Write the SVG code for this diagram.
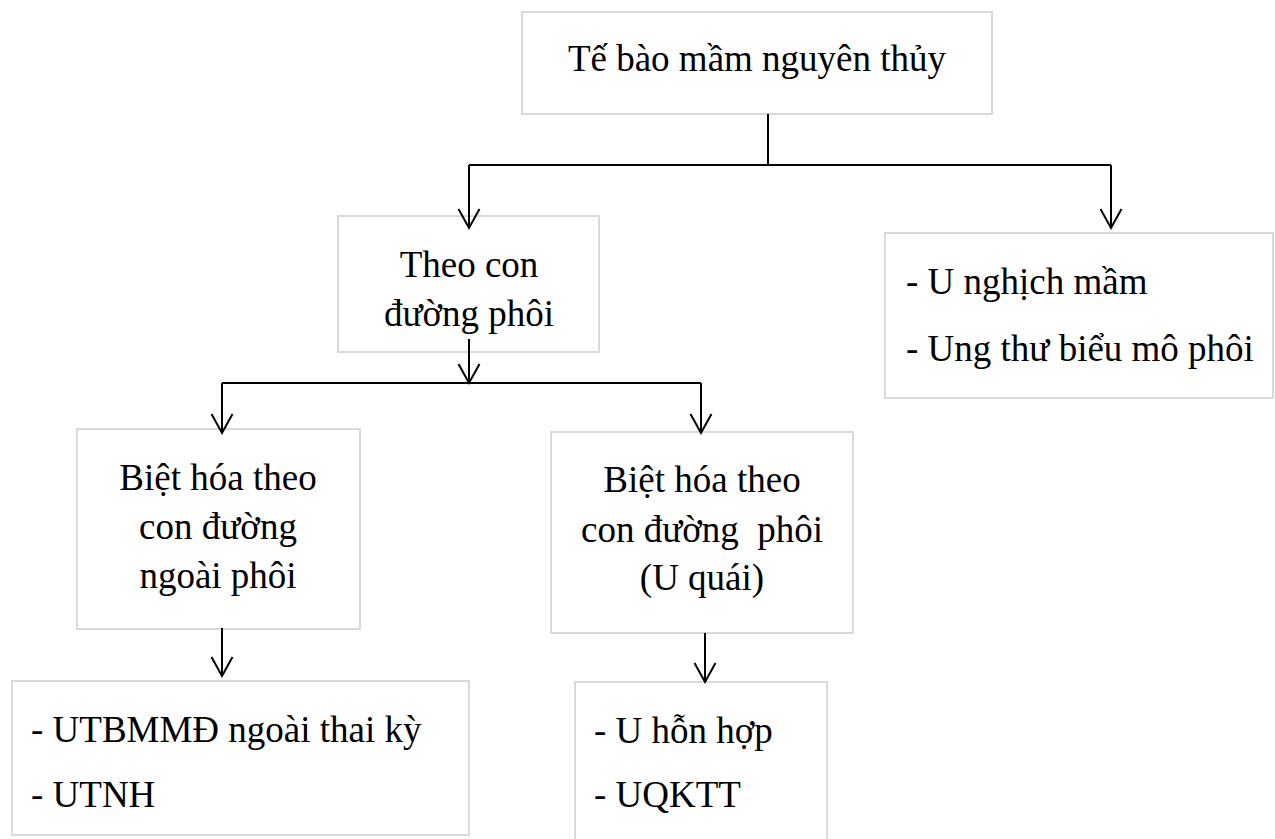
<svg xmlns="http://www.w3.org/2000/svg" width="1275" height="839" viewBox="0 0 1275 839">
<style>
  .box { fill: #ffffff; stroke: #d9d9d9; stroke-width: 2; }
  text { font-family: 'Liberation Serif', 'Times New Roman', 'DejaVu Serif', serif; font-size: 37px; fill: #000000; white-space: pre; }
  .c { text-anchor: middle; }
  .ln { fill: none; stroke: #000000; stroke-width: 2; }
  .arr { fill: none; stroke: #000000; stroke-width: 2; marker-end: url(#open); }
</style>
<defs>
  <marker id="open" markerUnits="userSpaceOnUse" markerWidth="24" markerHeight="26" viewBox="-21 -12 24 24" refX="0" refY="0" orient="auto" overflow="visible">
    <path d="M-19,-10.5 L0,0 L-19,10.5" fill="none" stroke="#000000" stroke-width="2"/>
  </marker>
</defs>
<rect width="1275" height="839" fill="#ffffff"/>

<g id="node-root">
  <rect class="box" x="522" y="12" width="470" height="102"/>
  <text class="c" x="757" y="71">Tế bào mầm nguyên thủy</text>
</g>
<g id="node-theo">
  <rect class="box" x="338" y="216" width="261" height="136"/>
  <text class="c" x="469" y="277">Theo con</text>
  <text class="c" x="469" y="326">đường phôi</text>
</g>
<g id="node-unghich">
  <rect class="box" x="885" y="233" width="388" height="165"/>
  <text x="906" y="294">- U nghịch mầm</text>
  <text x="906" y="361">- Ung thư biểu mô phôi</text>
</g>
<g id="node-ngoaiphoi">
  <rect class="box" x="77" y="429" width="283" height="200"/>
  <text class="c" x="218" y="490">Biệt hóa theo</text>
  <text class="c" x="218" y="539">con đường</text>
  <text class="c" x="218" y="588">ngoài phôi</text>
</g>
<g id="node-uquai">
  <rect class="box" x="551" y="432" width="302" height="201"/>
  <text class="c" x="702" y="492">Biệt hóa theo</text>
  <text class="c" x="702" y="542">con đường  phôi</text>
  <text class="c" x="702" y="590">(U quái)</text>
</g>
<g id="node-utbmmd">
  <rect class="box" x="12" y="681" width="457" height="154"/>
  <text x="31" y="742">- UTBMMĐ ngoài thai kỳ</text>
  <text x="31" y="807">- UTNH</text>
</g>
<g id="node-uhonhop">
  <rect class="box" x="575" y="682" width="252" height="170"/>
  <text x="594" y="743">- U hỗn hợp</text>
  <text x="594" y="807">- UQKTT</text>
</g>

<g id="connectors">
  <path class="ln" d="M768,114 V165 M469,165 H1111"/>
  <path class="arr" d="M469,165 V228"/>
  <path class="arr" d="M1111,165 V228"/>
  <path class="arr" d="M469,339 V383"/>
  <path class="ln" d="M222,383 H701"/>
  <path class="arr" d="M222,383 V433"/>
  <path class="arr" d="M701,383 V433"/>
  <path class="arr" d="M222,628 V676"/>
  <path class="arr" d="M705,633 V682"/>
</g>
</svg>
